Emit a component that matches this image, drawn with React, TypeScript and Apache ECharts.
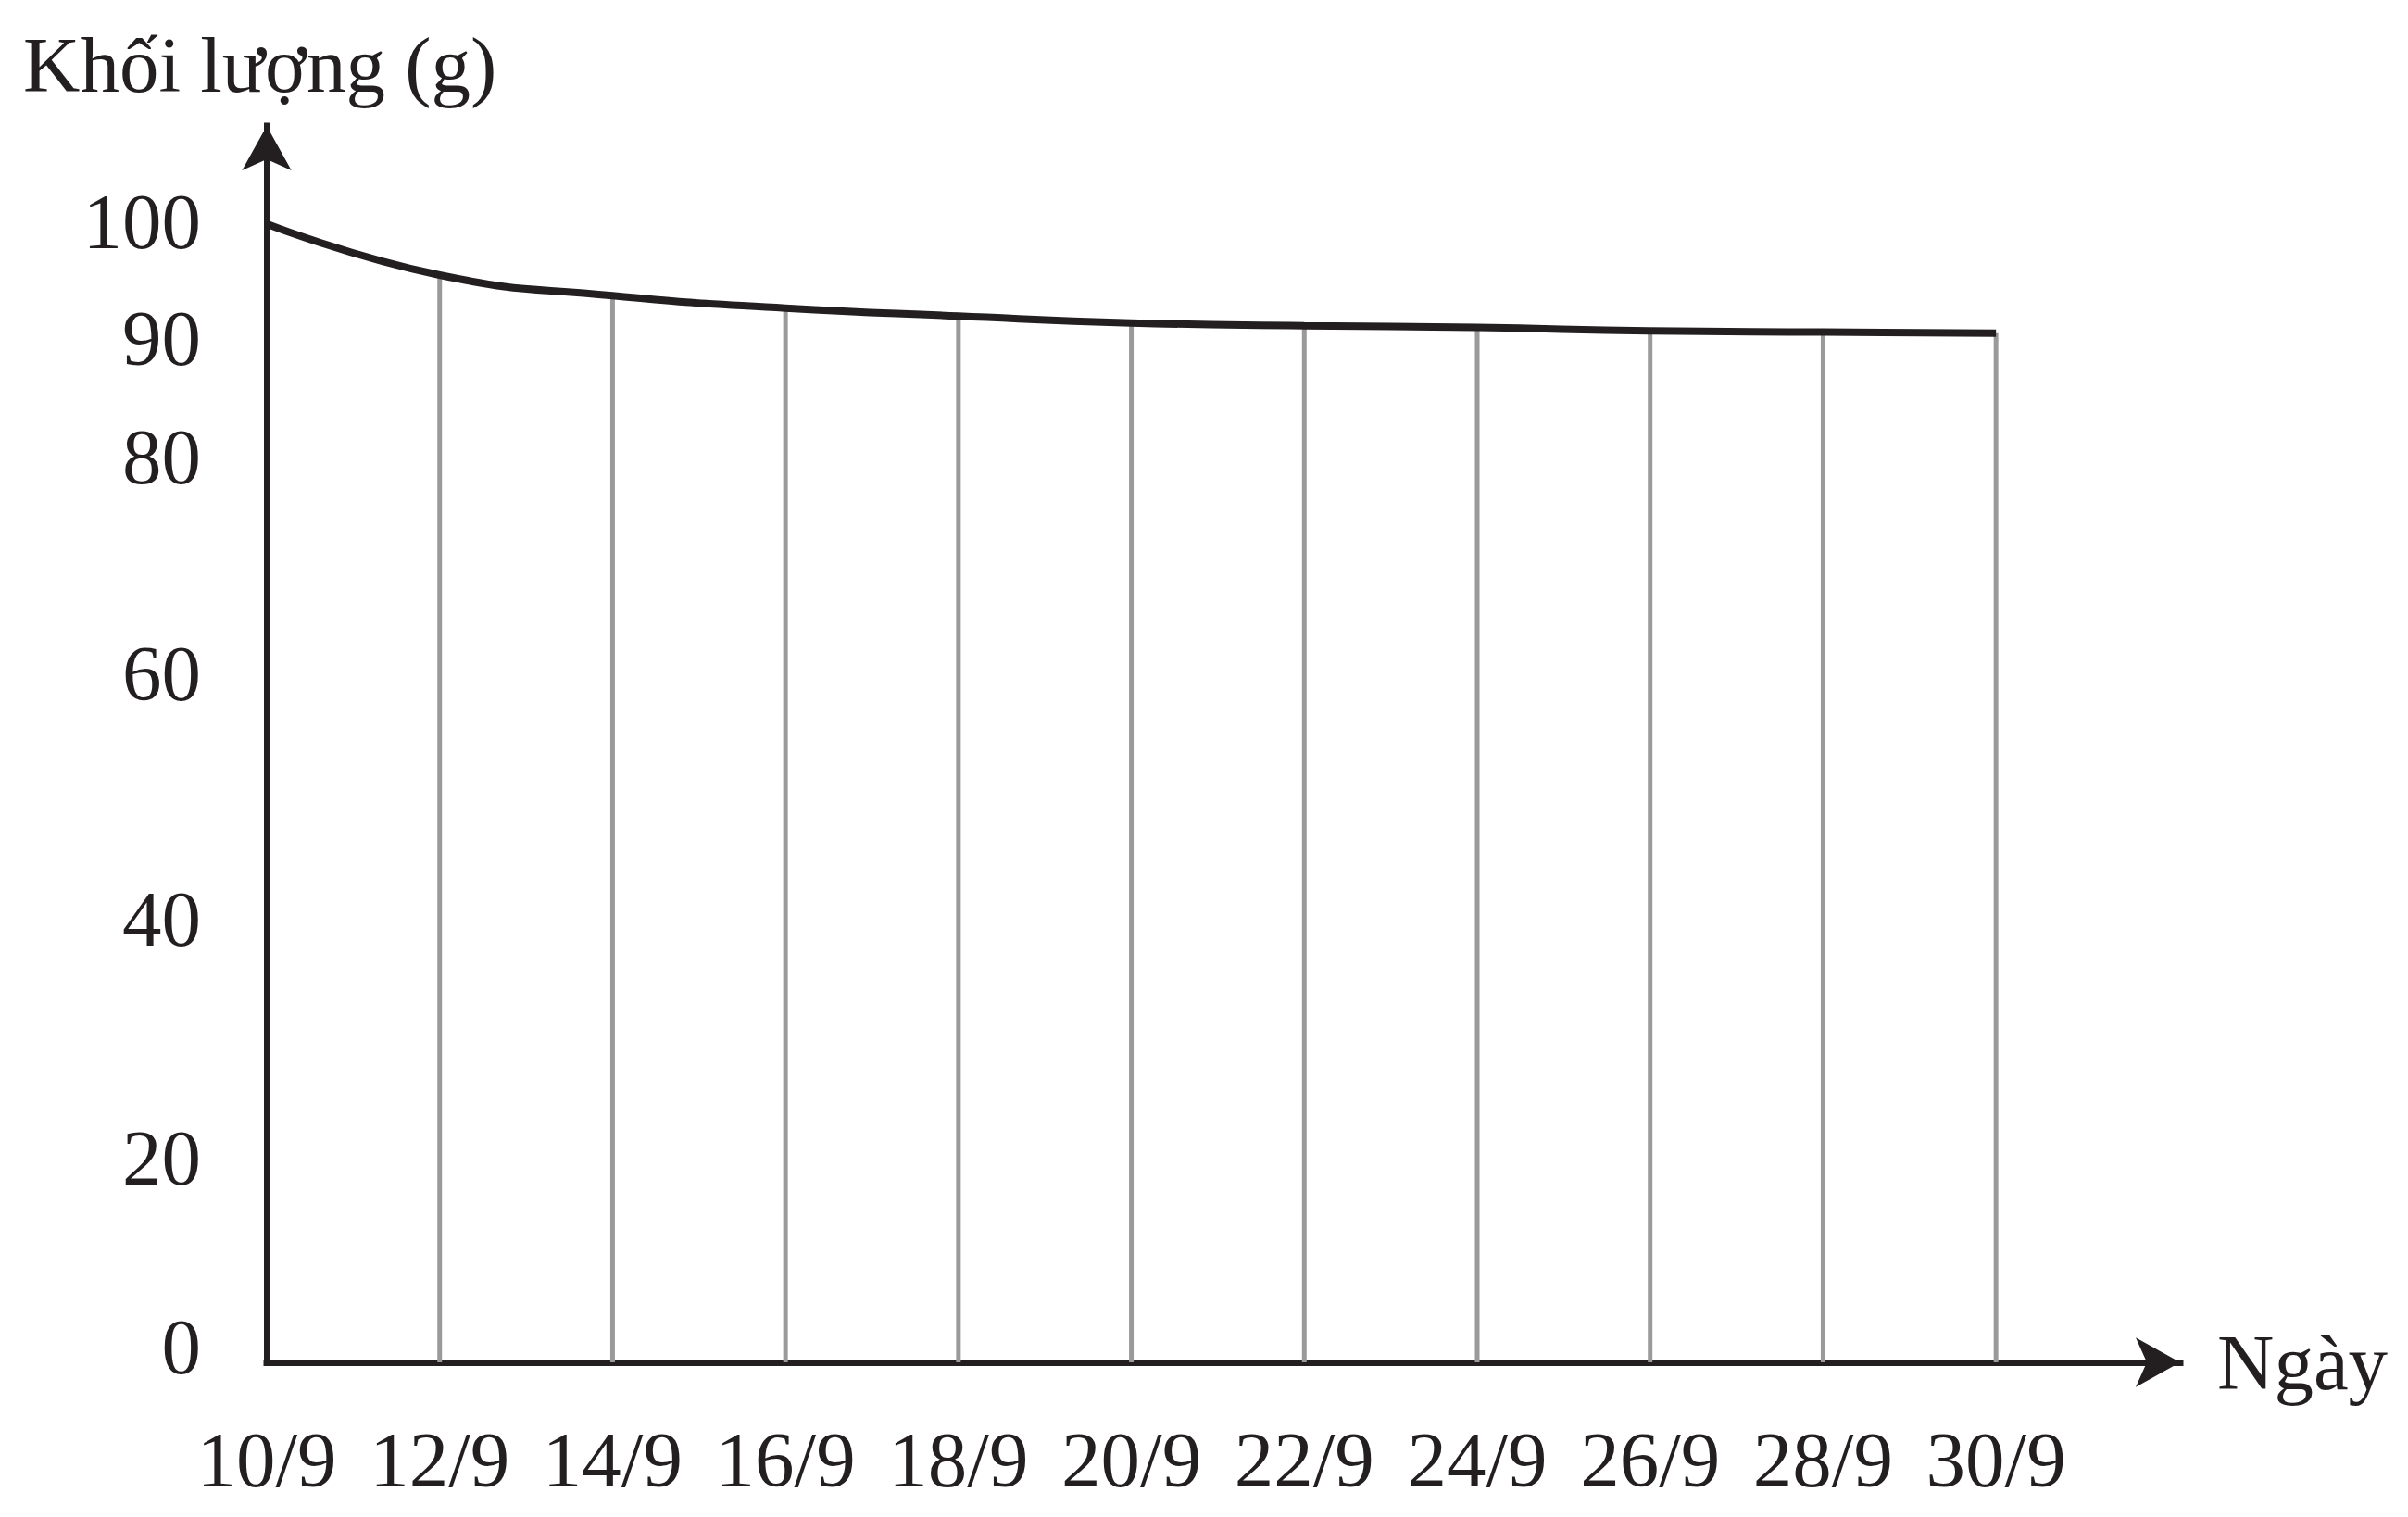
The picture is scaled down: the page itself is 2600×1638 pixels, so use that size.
import React, { useEffect, useRef } from "react";
import * as echarts from "echarts";

// ---- data ----
const days = [10, 12, 14, 16, 18, 20, 22, 24, 26, 28, 30];
const dayLabels = ["10/9", "12/9", "14/9", "16/9", "18/9", "20/9", "22/9", "24/9", "26/9", "28/9", "30/9"];
const mass = [100, 95.5, 93.7, 92.6, 91.9, 91.3, 91.05, 90.9, 90.6, 90.5, 90.4];
const yTicks = [0, 20, 40, 60, 80, 90, 100];
const yTitle = "Khối lượng (g)";
const xTitle = "Ngày";

const INK = "#231f20";
const FONT = "'Liberation Serif', 'Times New Roman', 'DejaVu Serif', serif";
const FS = 85;

// small vertical offsets of tick labels as drawn in the reference (px, + = down)
const labelShift: Record<number, number> = { 0: -17, 20: 25, 40: 13, 60: -6, 80: 5, 90: 0, 100: -3 };

export default function App() {
  const ref = useRef<HTMLDivElement>(null);
  useEffect(() => {
    if (!ref.current) return;
    const chart = echarts.init(ref.current, null, { renderer: "svg" });

    const rich: Record<string, any> = {};
    yTicks.forEach((v) => {
      const s = labelShift[v] || 0;
      rich["t" + v] = {
        fontSize: FS,
        fontFamily: FONT,
        color: INK,
        padding: s >= 0 ? [2 * s, 0, 0, 0] : [0, 0, -2 * s, 0],
      };
    });

    const option: any = {
      animation: false,
      backgroundColor: "#ffffff",
      title: {
        text: yTitle,
        left: 25,
        top: 27,
        padding: 0,
        textStyle: { fontFamily: FONT, fontSize: FS, fontWeight: "normal", color: INK },
      },
      grid: { left: 288, top: 136, width: 2066, height: 1335, containLabel: false },
      xAxis: {
        type: "value",
        min: 10,
        max: 32.13,
        splitLine: { show: false },
        axisTick: { show: false },
        axisLine: {
          show: true,
          onZero: false,
          symbol: ["none", "arrow"],
          symbolSize: [40, 48],
          lineStyle: { color: INK, width: 7, cap: "square" },
        },
        axisLabel: {
          customValues: days,
          formatter: (v: number) => {
            const i = days.indexOf(v);
            return i >= 0 ? dayLabels[i] : "";
          },
          margin: 62,
          fontFamily: FONT,
          fontSize: FS,
          color: INK,
        },
        name: xTitle,
        nameLocation: "end",
        nameGap: 40,
        nameTextStyle: { fontFamily: FONT, fontSize: FS, color: INK, padding: [12, 0, 0, 0] },
      },
      yAxis: {
        type: "value",
        min: 0,
        max: 108.6,
        splitLine: { show: false },
        axisTick: { show: false },
        axisLine: {
          show: true,
          onZero: false,
          symbol: ["none", "arrow"],
          symbolSize: [40, 48],
          lineStyle: { color: INK, width: 7, cap: "square" },
        },
        axisLabel: {
          customValues: yTicks,
          formatter: (v: number) => `{t${v}|${v}}`,
          rich,
          margin: 71,
          fontFamily: FONT,
          fontSize: FS,
          color: INK,
        },
      },
      series: [
        {
          type: "bar",
          data: days.slice(1).map((d, i) => [d, mass[i + 1]]),
          barWidth: 5,
          itemStyle: { color: "#9a9a9a" },
          z: 1,
        },
        {
          type: "line",
          data: days.map((d, i) => [d, mass[i]]),
          smooth: 0.5,
          symbol: "none",
          lineStyle: { color: INK, width: 8 },
          z: 3,
        },
      ],
    };
    chart.setOption(option);
    return () => chart.dispose();
  }, []);
  return (
    <div
      ref={ref}
      style={{ position: "fixed", left: 0, top: 0, width: 2600, height: 1638, background: "#fff" }}
    />
  );
}
